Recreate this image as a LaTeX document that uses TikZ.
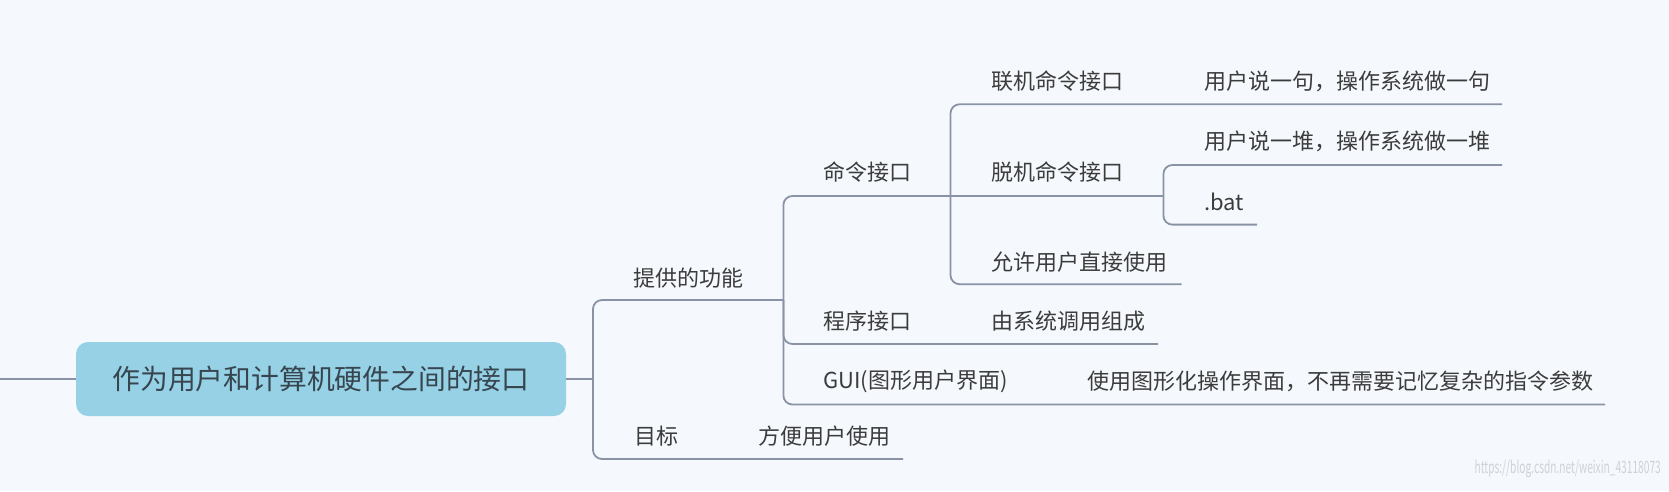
\documentclass[tikz,border=0pt]{standalone}
\usepackage{fontspec}
\usepackage{graphicx}
\setmainfont{Noto Sans CJK SC}
\definecolor{bgblue}{HTML}{F5F9FD}
\definecolor{branchgray}{HTML}{8A93A6}
\definecolor{boxblue}{HTML}{96D1E6}
\definecolor{textgray}{HTML}{3C3C3C}
\definecolor{roottext}{HTML}{37454F}
\definecolor{markgray}{HTML}{CDD2D8}
\tikzset{
  branch/.style={draw=branchgray, line width=1.8pt, rounded corners=9pt},
  topic/.style={anchor=west, inner sep=0pt, text=textgray, font=\fontsize{22}{24}\selectfont},
  rootbox/.style={fill=boxblue, rounded corners=12pt, minimum width=490pt, minimum height=74pt,
    text=roottext, font=\fontsize{27.8}{30}\selectfont}
}
\begin{document}
\begin{tikzpicture}[x=1pt, y=-1pt]
    \fill[bgblue] (0,0) rectangle (1669,491);
    \useasboundingbox (0,0) rectangle (1669,491);
    \node[rootbox] (root) at (321,379) {作为用户和计算机硬件之间的接口};
    \coordinate (in) at (0,379);
    \draw[branch] (in) -- (root.west);
    % first level
    \coordinate (j1) at (593,379);
    \coordinate (func-end) at (783.4,300);
    \coordinate (goal-end) at (903,459);
    \node[topic] (func) at (633,278) {提供的功能};
    \node[topic] (goal) at (634,436) {目标};
    \node[topic] (goalx) at (758,436) {方便用户使用};
    \draw[branch] (root.east) -- (j1);
    \draw[branch] (j1) |- (func-end);
    \draw[branch] (j1) |- (goal-end);
    % second level
    \coordinate (cmd-end) at (950.5,196);
    \coordinate (prog-end) at (1158,344);
    \coordinate (gui-end) at (1605,404.5);
    \node[topic] (cmd) at (823,172.4) {命令接口};
    \node[topic] (prog) at (823,321.5) {程序接口};
    \node[topic] (progx) at (991,321.5) {由系统调用组成};
    \node[topic] (gui) at (823,381) {GUI(图形用户界面)};
    \node[topic] (guix) at (1087,381) {使用图形化操作界面，不再需要记忆复杂的指令参数};
    \draw[branch] (func-end) |- (cmd-end);
    \draw[branch] (func-end) |- (prog-end);
    \draw[branch] (func-end) |- (gui-end);
    % third level
    \coordinate (online-end) at (1502,104.3);
    \coordinate (offline-end) at (1163.4,196);
    \coordinate (direct-end) at (1181.5,284.2);
    \node[topic] (online) at (991,81) {联机命令接口};
    \node[topic] (onlinex) at (1204,81) {用户说一句，操作系统做一句};
    \node[topic] (offline) at (991,172.4) {脱机命令接口};
    \node[topic] (direct) at (991,262) {允许用户直接使用};
    \draw[branch] (cmd-end) |- (online-end);
    \draw[branch] (cmd-end) -- (offline-end);
    \draw[branch] (cmd-end) |- (direct-end);
    % fourth level
    \coordinate (batch-end) at (1502,165);
    \coordinate (bat-end) at (1257,224.6);
    \node[topic] (batch) at (1204,141.6) {用户说一堆，操作系统做一堆};
    \node[topic] (bat) at (1204,202.2) {.bat};
    \draw[branch] (offline-end) |- (batch-end);
    \draw[branch] (offline-end) |- (bat-end);
    \node[anchor=east, inner sep=0pt, text=markgray, font=\fontsize{17}{19}\selectfont] (mark) at (1661,469)
      {\scalebox{0.6}[1]{https://blog.csdn.net/weixin\_43118073}};
\end{tikzpicture}
\end{document}
